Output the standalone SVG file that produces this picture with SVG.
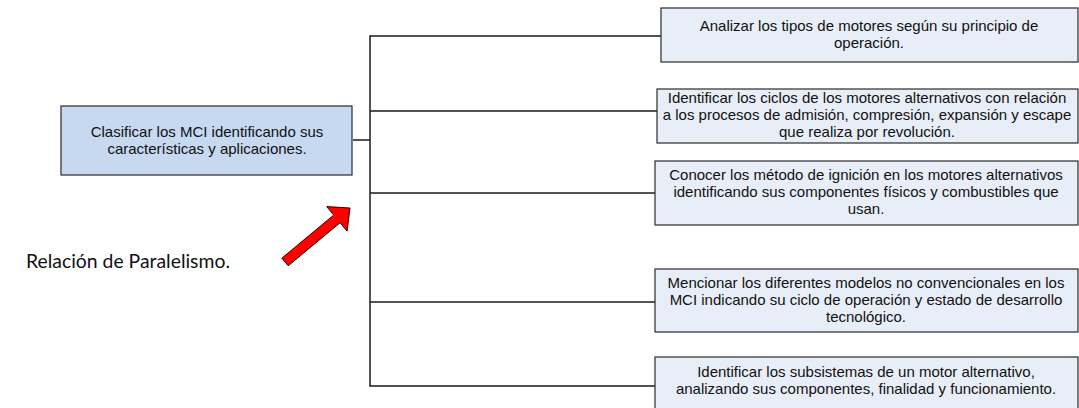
<svg xmlns="http://www.w3.org/2000/svg" width="1079" height="408" viewBox="0 0 1079 408">
<style>
.box{fill:#e8eef8;stroke:#2b2b2b;stroke-width:1.2}
.main{fill:#c6d9f0;stroke:#2b2b2b;stroke-width:1.2}
.t{font-family:"Liberation Sans",Arial,sans-serif;font-size:15px;fill:#111;text-anchor:middle}
.c{fill:none;stroke:#1a1a1a;stroke-width:1.5}
</style>
<rect width="1079" height="408" fill="#ffffff"/>
<g id="connectors">
<polyline class="c" points="353,140 370,140"/>
<polyline class="c" points="661,36 370,36 370,386 655,386"/>
<line class="c" x1="370" y1="111" x2="657" y2="111"/>
<line class="c" x1="370" y1="193" x2="655" y2="193"/>
<line class="c" x1="370" y1="302" x2="655" y2="302"/>
</g>
<g id="main">
<rect class="main" x="61" y="106" width="291" height="69"/>
<text class="t" x="207" y="137">Clasificar los MCI identificando sus</text>
<text class="t" x="207" y="154">características y aplicaciones.</text>
</g>
<g id="n1">
<rect class="box" x="661" y="8" width="417" height="54"/>
<text class="t" x="869" y="31">Analizar los tipos de motores según su principio de</text>
<text class="t" x="869" y="48">operación.</text>
</g>
<g id="n2">
<rect class="box" x="657" y="89" width="421" height="54"/>
<text class="t" x="867" y="103">Identificar los ciclos de los motores alternativos con relación</text>
<text class="t" x="867" y="120">a los procesos de admisión, compresión, expansión y escape</text>
<text class="t" x="867" y="137">que realiza por revolución.</text>
</g>
<g id="n3">
<rect class="box" x="655" y="161" width="423" height="64"/>
<text class="t" x="866" y="180">Conocer  los método de ignición en los motores alternativos</text>
<text class="t" x="866" y="197">identificando sus componentes físicos y combustibles que</text>
<text class="t" x="866" y="214">usan.</text>
</g>
<g id="n4">
<rect class="box" x="655" y="269" width="423" height="63"/>
<text class="t" x="866" y="288">Mencionar los diferentes modelos no convencionales en los</text>
<text class="t" x="866" y="305">MCI indicando su ciclo de operación y estado de desarrollo</text>
<text class="t" x="866" y="322">tecnológico.</text>
</g>
<g id="n5">
<rect class="box" x="655" y="357" width="423" height="55"/>
<text class="t" x="866" y="377">Identificar los subsistemas de un motor alternativo,</text>
<text class="t" x="866" y="394">analizando sus componentes, finalidad y funcionamiento.</text>
</g>
<g id="arrow">
<polygon points="281.8,258.2 333.7,215.1 326.7,206.6 350,208 347.1,231.2 340.1,222.7 288.2,265.8" fill="#ff0000" stroke="#3a0000" stroke-width="1"/>
</g>
<g id="label">
<text x="26" y="268" font-family="Lato,'Open Sans',sans-serif" font-size="19" fill="#111" textLength="204" lengthAdjust="spacingAndGlyphs">Relación de Paralelismo.</text>
</g>
</svg>
